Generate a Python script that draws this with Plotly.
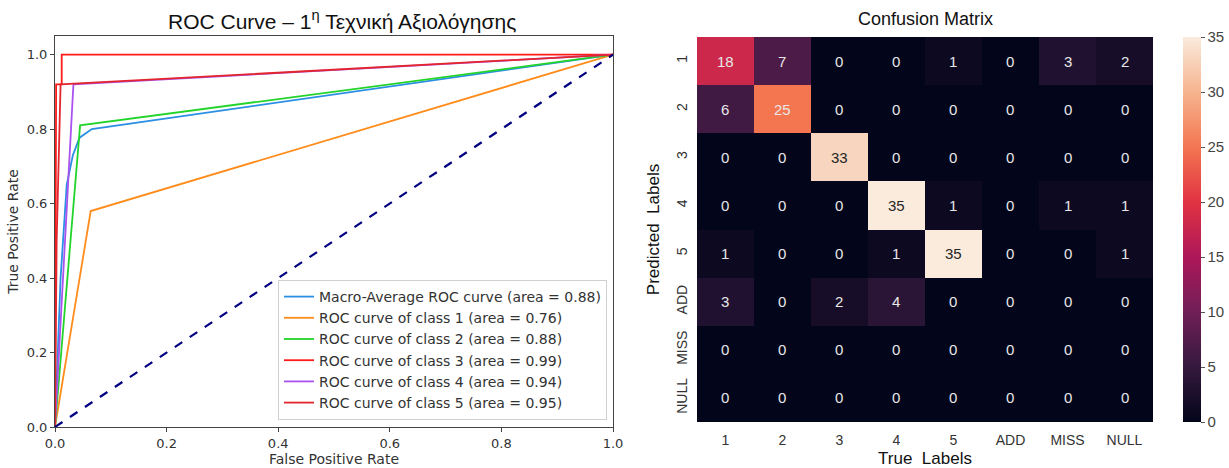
import plotly.graph_objects as go

# ROC curve points (false positive rate / true positive rate) per curve
macro_fpr = [0.0, 0.010, 0.021, 0.032, 0.044, 0.066, 1.0]
macro_tpr = [0.0, 0.40, 0.65, 0.73, 0.777, 0.80, 1.0]
c1_fpr = [0.0, 0.064, 1.0]
c1_tpr = [0.0, 0.58, 1.0]
c2_fpr = [0.0, 0.045, 1.0]
c2_tpr = [0.0, 0.81, 1.0]
c3_fpr = [0.0, 0.002, 0.012, 0.012, 1.0]
c3_tpr = [0.0, 0.92, 0.92, 1.0, 1.0]
c4_fpr = [0.0, 0.033, 1.0]
c4_tpr = [0.0, 0.92, 1.0]
c5_fpr = [0.0, 0.003, 0.010, 1.0]
c5_tpr = [0.0, 0.50, 0.92, 1.0]

roc_names = [
    "Macro-Average ROC curve (area = 0.88)",
    "ROC curve of class 1 (area = 0.76)",
    "ROC curve of class 2 (area = 0.88)",
    "ROC curve of class 3 (area = 0.99)",
    "ROC curve of class 4 (area = 0.94)",
    "ROC curve of class 5 (area = 0.95)",
]
roc_colors = ["#2b8fe3", "#ff8c1a", "#22d42a", "#ff1a1a", "#a952f0", "#e3262e"]

# Confusion matrix (rows: predicted, columns: true)
labels = ["1", "2", "3", "4", "5", "ADD", "MISS", "NULL"]
cm = [
    [18, 7, 0, 0, 1, 0, 3, 2],
    [6, 25, 0, 0, 0, 0, 0, 0],
    [0, 0, 33, 0, 0, 0, 0, 0],
    [0, 0, 0, 35, 1, 0, 1, 1],
    [1, 0, 0, 1, 35, 0, 0, 1],
    [3, 0, 2, 4, 0, 0, 0, 0],
    [0, 0, 0, 0, 0, 0, 0, 0],
    [0, 0, 0, 0, 0, 0, 0, 0],
]

rocket = [
    [0.0, "#03051a"],
    [1 / 7, "#35193e"],
    [2 / 7, "#701f57"],
    [3 / 7, "#ad1759"],
    [4 / 7, "#e13342"],
    [5 / 7, "#f37651"],
    [6 / 7, "#f6b48f"],
    [1.0, "#faebdd"],
]

idx = list(range(len(labels)))

fig = go.Figure()

curves = [
    (macro_fpr, macro_tpr), (c1_fpr, c1_tpr), (c2_fpr, c2_tpr),
    (c3_fpr, c3_tpr), (c4_fpr, c4_tpr), (c5_fpr, c5_tpr),
]
for (fx, ty), name, col in zip(curves, roc_names, roc_colors):
    fig.add_trace(go.Scatter(x=fx, y=ty, mode="lines", name=name,
                             line=dict(color=col, width=1.8),
                             xaxis="x", yaxis="y"))

fig.add_trace(go.Scatter(x=[0, 1], y=[0, 1], mode="lines", showlegend=False,
                         line=dict(color="navy", width=2.2, dash="dash"),
                         xaxis="x", yaxis="y"))

fig.add_trace(go.Heatmap(
    z=cm, x=idx, y=idx, colorscale=rocket, zmin=0, zmax=35,
    xaxis="x2", yaxis="y2", showscale=True, showlegend=False,
    colorbar=dict(xref="container", yref="container",
                  x=1183 / 1229, xanchor="left", y=1 - 422 / 468, yanchor="bottom",
                  len=385 / 468, lenmode="fraction", thickness=18, xpad=0, ypad=0,
                  outlinewidth=0, ticks="outside", ticklen=4, tickcolor="#555",
                  tickvals=[0, 5, 10, 15, 20, 25, 30, 35],
                  tickfont=dict(family="Liberation Sans", size=15, color="#444")),
))

for i, row in enumerate(cm):
    for j, v in enumerate(row):
        fig.add_annotation(x=j, y=i, xref="x2", yref="y2",
                           text=str(v), showarrow=False,
                           font=dict(family="Liberation Sans", size=15,
                                     color="#262626" if v > 28 else "#e8e8e8"))

axis_font = dict(family="DejaVu Sans", size=13, color="#333")
fig.update_layout(
    width=1229, height=468,
    margin=dict(l=0, r=0, t=0, b=0, autoexpand=False),
    paper_bgcolor="white", plot_bgcolor="white",
    showlegend=True,
    legend=dict(x=607 / 1229, xanchor="right", y=1 - 420 / 468, yanchor="bottom",
                bgcolor="rgba(255,255,255,0.85)", bordercolor="#d0d0d0",
                borderwidth=1, font=dict(family="DejaVu Sans", size=14, color="#333"),
                tracegroupgap=0, itemwidth=30),
    xaxis=dict(domain=[55 / 1229, 613 / 1229], range=[0, 1], showgrid=False,
               zeroline=False, showline=True, mirror=True, linecolor="#444",
               linewidth=1, ticks="outside", ticklen=4, tickcolor="#444",
               tickvals=[0, 0.2, 0.4, 0.6, 0.8, 1.0], tickformat=".1f",
               tickfont=axis_font, automargin=False, anchor="y",
               title=dict(text="False Positive Rate", standoff=4,
                          font=dict(family="DejaVu Sans", size=14, color="#333"))),
    yaxis=dict(domain=[1 - 427 / 468, 1 - 36 / 468], range=[0, 1.05], showgrid=False,
               zeroline=False, showline=True, mirror=True, linecolor="#444",
               linewidth=1, ticks="outside", ticklen=4, tickcolor="#444",
               tickvals=[0, 0.2, 0.4, 0.6, 0.8, 1.0], tickformat=".1f",
               tickfont=axis_font, automargin=False, anchor="x",
               title=dict(text="True Positive Rate", standoff=4,
                          font=dict(family="DejaVu Sans", size=14, color="#333"))),
    xaxis2=dict(domain=[697 / 1229, 1153 / 1229], range=[-0.5, 7.5], showgrid=False,
                zeroline=False, showline=False, ticks="", anchor="y2",
                tickvals=idx, ticktext=labels, automargin=False, ticklabelstandoff=8,
                tickfont=dict(family="Liberation Sans", size=14, color="#333"),
                title=dict(text="True  Labels", standoff=6,
                           font=dict(family="Liberation Sans", size=17, color="#111"))),
    yaxis2=dict(domain=[1 - 422 / 468, 1 - 37 / 468], range=[7.5, -0.5], showgrid=False,
                zeroline=False, showline=False, ticks="", anchor="x2",
                tickvals=idx, ticktext=labels, tickangle=-90, automargin=False,
                ticklabelstandoff=6,
                tickfont=dict(family="Liberation Sans", size=14, color="#333"),
                title=dict(text="Predicted  Labels", standoff=10,
                           font=dict(family="Liberation Sans", size=17, color="#111"))),
)

fig.add_annotation(text="ROC Curve – 1<sup>η</sup> Τεχνική Αξιολόγησης",
                   x=342 / 1229, y=1 - 20 / 468, xref="paper", yref="paper",
                   showarrow=False, xanchor="center", yanchor="middle",
                   font=dict(family="Liberation Sans", size=21, color="#111"))
fig.add_annotation(text="Confusion Matrix",
                   x=925 / 1229, y=1 - 19 / 468, xref="paper", yref="paper",
                   showarrow=False, xanchor="center", yanchor="middle",
                   font=dict(family="Liberation Sans", size=18, color="#111"))

fig.write_html("out.html")
